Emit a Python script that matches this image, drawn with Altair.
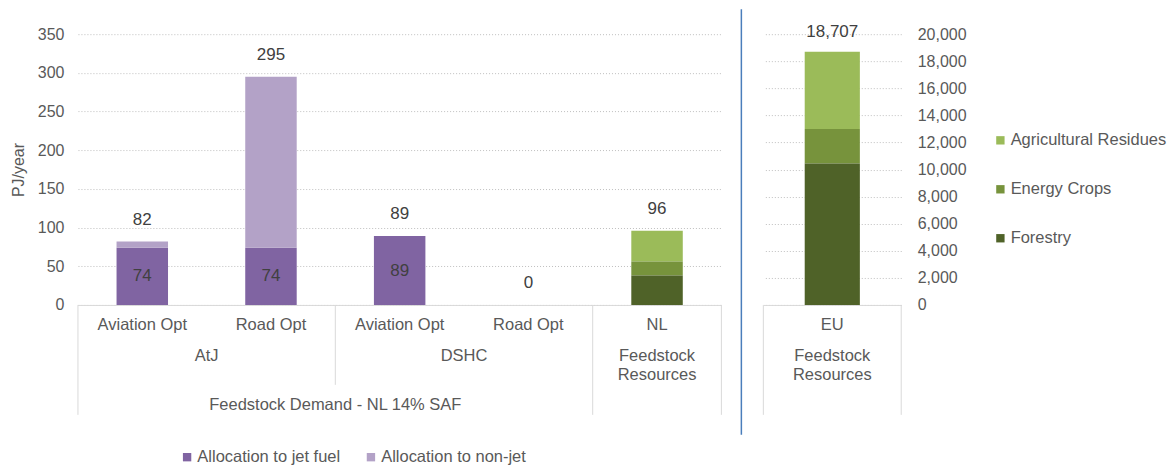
import altair as alt
import pandas as pd

# ---------------- data ----------------
keys = ["AtJ Aviation Opt", "AtJ Road Opt", "DSHC Aviation Opt", "DSHC Road Opt", "NL"]
tick_labels = ["Aviation Opt", "Road Opt", "Aviation Opt", "Road Opt", "NL"]
pathway_labels = ["AtJ", "DSHC"]
pathway_first_keys = ["AtJ Aviation Opt", "DSHC Aviation Opt"]
purple_series = ["Allocation to jet fuel", "Allocation to non-jet"]
jet_fuel = [74, 74, 89, 0]
non_jet = [8, 221, 0, 0]
left_totals = [82, 295, 89, 0, 96]
green_series = ["Agricultural Residues", "Energy Crops", "Forestry"]
green_stack_order = [2, 1, 0]
nl_resources = [40, 18, 38]
eu_resources = [5707, 2550, 10450]
eu_total = [18707]
purple_colors = ["#8064A2", "#B3A2C7"]
green_colors = ["#9BBB59", "#77933C", "#4F6228"]

FONT = "Liberation Sans"
GREY = "#595959"
DARK = "#404040"
LINE = "#D9D9D9"
GRID = "#BFBFBF"
FS = 16.5
H = 271
WL = 644
WR = 138

purple_df = pd.DataFrame(
    [{"key": k, "series": purple_series[0], "v": j, "ord": 0} for k, j in zip(keys[:4], jet_fuel)]
    + [{"key": k, "series": purple_series[1], "v": n, "ord": 1} for k, n in zip(keys[:4], non_jet)]
)
nl_df = pd.DataFrame({"key": "NL", "series": green_series, "v": nl_resources, "ord": green_stack_order})
eu_df = pd.DataFrame({"key": "EU", "series": green_series, "v": eu_resources, "ord": green_stack_order})
tot_df = pd.DataFrame({"key": keys, "v": left_totals})
inner_df = pd.DataFrame({"key": keys[:4], "jet": jet_fuel})
tick_df = pd.DataFrame({"key": keys, "label": tick_labels})
path_df = pd.DataFrame({"key": pathway_first_keys, "label": pathway_labels})

xs_left = alt.Scale(domain=keys, paddingInner=0, paddingOuter=0)
x_axis = alt.Axis(labels=False, ticks=False, title=None, domainColor=LINE, domainWidth=1, grid=False)


def xl(bp=None):
    if bp is None:
        return alt.X("key:N", scale=xs_left, axis=x_axis, sort=keys)
    return alt.X("key:N", scale=xs_left, axis=x_axis, sort=keys, bandPosition=bp)


yl_axis = alt.Axis(
    values=list(range(0, 351, 50)), title="PJ/year", titleFontSize=16, titleFontWeight="normal",
    titleColor=GREY, titleFont=FONT, labelFontSize=16, labelColor=GREY, labelFont=FONT,
    labelPadding=14, titlePadding=11, domain=False, ticks=False,
    gridColor=GRID, gridDash=[1, 2], gridWidth=1,
)
ys_left = alt.Scale(domain=[0, 350], nice=False)


def yl(field="v:Q", stack=None):
    if stack:
        return alt.Y(field, scale=ys_left, axis=yl_axis, stack=stack)
    return alt.Y(field, scale=ys_left, axis=yl_axis)


purple_bars = alt.Chart(purple_df).mark_bar(width=alt.RelativeBandSize(0.4)).encode(
    x=xl(),
    y=yl(stack="zero"),
    color=alt.Color(
        "series:N",
        scale=alt.Scale(domain=purple_series, range=purple_colors),
        legend=alt.Legend(
            orient="none", legendX=101, legendY=H + 144, direction="horizontal", title=None,
            symbolType="square", symbolSize=70, symbolStrokeWidth=0, labelFontSize=FS,
            labelColor=GREY, labelFont=FONT, columnPadding=22, labelOffset=2, padding=0,
        ),
    ),
    order=alt.Order("ord:Q"),
)

nl_bars = alt.Chart(nl_df).mark_bar(width=alt.RelativeBandSize(0.4)).encode(
    x=xl(),
    y=yl(stack="zero"),
    color=alt.Color("series:N", scale=alt.Scale(domain=green_series, range=green_colors), legend=None),
    order=alt.Order("ord:Q"),
)

totals = alt.Chart(tot_df).mark_text(dy=-22, fontSize=17, font=FONT, color=DARK).encode(
    x=xl(), y=yl(), text=alt.Text("v:Q")
)

inner = (
    alt.Chart(inner_df)
    .transform_filter("datum.jet > 0")
    .transform_calculate(v="datum.jet / 2")
    .mark_text(fontSize=17, font=FONT, color=DARK)
    .encode(x=xl(), y=yl(), text=alt.Text("jet:Q"))
)

ticks_txt = alt.Chart(tick_df).mark_text(fontSize=FS, font=FONT, color=GREY, baseline="middle").encode(
    x=xl(), y=alt.value(H + 20), text="label:N"
)

path_txt = alt.Chart(path_df).mark_text(fontSize=FS, font=FONT, color=GREY, baseline="middle").encode(
    x=xl(1), y=alt.value(H + 51), text="label:N"
)

nl_sub = alt.Chart(pd.DataFrame({"key": ["NL"], "label": ["Feedstock\nResources"]})).mark_text(
    fontSize=FS, font=FONT, color=GREY, baseline="middle", lineBreak="\n", lineHeight=19
).encode(x=xl(), y=alt.value(H + 51), text="label:N")

demand_txt = alt.Chart(pd.DataFrame({"key": ["AtJ Road Opt"], "label": ["Feedstock Demand - NL 14% SAF"]})).mark_text(
    fontSize=FS, font=FONT, color=GREY, baseline="middle"
).encode(x=xl(1), y=alt.value(H + 100), text="label:N")

rule_full0 = alt.Chart(pd.DataFrame({"key": ["AtJ Aviation Opt", "NL"]})).mark_rule(color=LINE, strokeWidth=1).encode(
    x=xl(0), y=alt.value(H), y2=alt.value(H + 110)
)
rule_full1 = alt.Chart(pd.DataFrame({"key": ["NL"]})).mark_rule(color=LINE, strokeWidth=1).encode(
    x=xl(1), y=alt.value(H), y2=alt.value(H + 110)
)
rule_short = alt.Chart(pd.DataFrame({"key": ["DSHC Aviation Opt"]})).mark_rule(color=LINE, strokeWidth=1).encode(
    x=xl(0), y=alt.value(H), y2=alt.value(H + 80)
)

blue = alt.Chart(pd.DataFrame({"k": [0]})).mark_rule(color="#4A7EBB", strokeWidth=1.5).encode(
    x=alt.value(WL + 20), y=alt.value(-25), y2=alt.value(H + 130)
)

left = alt.layer(
    purple_bars, nl_bars, totals, inner, ticks_txt, path_txt, nl_sub, demand_txt,
    rule_full0, rule_full1, rule_short, blue,
).resolve_scale(color="independent").properties(width=WL, height=H)

# ---------------- right panel ----------------
xs_right = alt.Scale(domain=["EU"], paddingInner=0, paddingOuter=0)


def xr(bp=None):
    if bp is None:
        return alt.X("key:N", scale=xs_right, axis=x_axis)
    return alt.X("key:N", scale=xs_right, axis=x_axis, bandPosition=bp)


yr_axis = alt.Axis(
    orient="right", values=list(range(0, 20001, 2000)), labelExpr="format(datum.value, ',')", title=None,
    labelFontSize=16, labelColor=GREY, labelFont=FONT, labelPadding=16, domain=False, ticks=False,
    gridColor=GRID, gridDash=[1, 2], gridWidth=1,
)
ys_right = alt.Scale(domain=[0, 20000], nice=False)

eu_bars = alt.Chart(eu_df).mark_bar(width=alt.RelativeBandSize(0.4)).encode(
    x=xr(),
    y=alt.Y("v:Q", scale=ys_right, axis=yr_axis, stack="zero"),
    color=alt.Color(
        "series:N",
        scale=alt.Scale(domain=green_series, range=green_colors),
        legend=alt.Legend(
            orient="none", legendX=229, legendY=98, direction="vertical", title=None,
            symbolType="square", symbolSize=70, symbolStrokeWidth=0, labelFontSize=FS,
            labelColor=GREY, labelFont=FONT, rowPadding=32, labelOffset=2, padding=0,
        ),
    ),
    order=alt.Order("ord:Q"),
)

eu_tot = alt.Chart(pd.DataFrame({"key": ["EU"], "v": eu_total})).mark_text(
    dy=-20, fontSize=17, font=FONT, color=DARK
).encode(x=xr(), y=alt.Y("v:Q", scale=ys_right, axis=yr_axis), text=alt.Text("v:Q", format=","))

eu_tick = alt.Chart(pd.DataFrame({"key": ["EU"], "label": ["EU"]})).mark_text(
    fontSize=FS, font=FONT, color=GREY, baseline="middle"
).encode(x=xr(), y=alt.value(H + 20), text="label:N")

eu_sub = alt.Chart(pd.DataFrame({"key": ["EU"], "label": ["Feedstock\nResources"]})).mark_text(
    fontSize=FS, font=FONT, color=GREY, baseline="middle", lineBreak="\n", lineHeight=19
).encode(x=xr(), y=alt.value(H + 51), text="label:N")

eu_rule0 = alt.Chart(pd.DataFrame({"key": ["EU"]})).mark_rule(color=LINE, strokeWidth=1).encode(
    x=xr(0), y=alt.value(H), y2=alt.value(H + 110)
)
eu_rule1 = alt.Chart(pd.DataFrame({"key": ["EU"]})).mark_rule(color=LINE, strokeWidth=1).encode(
    x=xr(1), y=alt.value(H), y2=alt.value(H + 110)
)

right = alt.layer(eu_bars, eu_tot, eu_tick, eu_sub, eu_rule0, eu_rule1).properties(width=WR, height=H)

chart = (
    alt.hconcat(left, right, spacing=20)
    .resolve_scale(color="independent", y="independent", x="independent")
    .properties(padding={"left": 2, "top": 0, "right": 0, "bottom": 0})
    .configure(font=FONT)
    .configure_view(stroke="transparent", strokeWidth=0)
)

chart.save("out.html", embed_options={"renderer": "svg", "actions": False})
